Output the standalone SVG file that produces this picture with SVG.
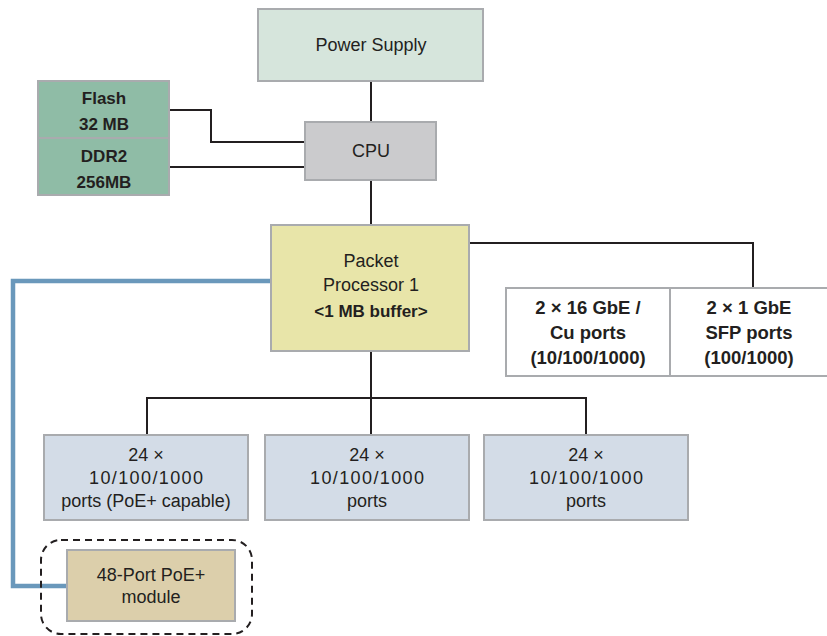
<svg xmlns="http://www.w3.org/2000/svg" width="827" height="636" viewBox="0 0 827 636">
<style>
text{font-family:"Liberation Sans",Arial,sans-serif;font-size:18px;fill:#231f20;text-anchor:middle}
.b{font-weight:bold;font-size:17px}
.r{font-weight:bold;font-size:18.5px}
.box{stroke:#a9abae;stroke-width:2}
.ln{fill:none;stroke:#231f20;stroke-width:2}
</style>
<rect width="827" height="636" fill="#fff"/>
<g id="connectors">
<path class="ln" d="M371 81V122M371 180V225M169 110H211V142H305M169 167H305M469 243H753V288M371 351V398M147 435V398H586V435M371 398V435"/>
<path d="M271 281H13V586H67" fill="none" stroke="#6a98bb" stroke-width="4.5"/>
</g>
<g id="power"><rect class="box" x="258" y="9" width="225" height="72" fill="#d6e5dc"/><text x="371" y="51">Power Supply</text></g>
<g id="cpu"><rect class="box" x="305" y="122" width="131" height="58" fill="#cbcbcd"/><text x="371" y="157">CPU</text></g>
<g id="flash"><rect class="box" x="38" y="81" width="131" height="57" fill="#8fbca6"/><text class="b" x="104" y="104">Flash</text><text class="b" x="104" y="130">32 MB</text></g>
<g id="ddr2"><rect class="box" x="38" y="138" width="131" height="57" fill="#8fbca6"/><text class="b" x="104" y="162">DDR2</text><text class="b" x="104" y="188">256MB</text></g>
<g id="pp"><rect class="box" x="271" y="225" width="198" height="126" fill="#e8e5a9"/><text x="371" y="267">Packet</text><text x="371" y="291">Processor 1</text><text class="b" x="371" y="317">&lt;1 MB buffer&gt;</text></g>
<g id="cu"><rect class="box" x="506" y="288" width="164" height="88" fill="#fff"/><text class="r" x="588" y="314">2 × 16 GbE /</text><text class="r" x="588" y="339">Cu ports</text><text class="r" x="588" y="364">(10/100/1000)</text></g>
<g id="sfp"><rect class="box" x="670" y="288" width="160" height="88" fill="#fff"/><text class="r" x="749" y="314">2 × 1 GbE</text><text class="r" x="749" y="339">SFP ports</text><text class="r" x="749" y="364">(100/1000)</text></g>
<g id="ports1"><rect class="box" x="44" y="435" width="204" height="85" fill="#d3dce7"/><text x="146" y="461">24 ×</text><text x="146" y="484" textLength="114" lengthAdjust="spacing">10/100/1000</text><text x="146" y="507">ports (PoE+ capable)</text></g>
<g id="ports2"><rect class="box" x="265" y="435" width="204" height="85" fill="#d3dce7"/><text x="367" y="461">24 ×</text><text x="367" y="484" textLength="114" lengthAdjust="spacing">10/100/1000</text><text x="367" y="507">ports</text></g>
<g id="ports3"><rect class="box" x="484" y="435" width="204" height="85" fill="#d3dce7"/><text x="586" y="461">24 ×</text><text x="586" y="484" textLength="114" lengthAdjust="spacing">10/100/1000</text><text x="586" y="507">ports</text></g>
<g id="module"><rect x="41" y="540" width="211" height="94" rx="20" fill="none" stroke="#231f20" stroke-width="2" stroke-dasharray="7 5"/><rect class="box" x="67" y="550" width="168" height="71" fill="#dccfab"/><text x="151" y="581">48-Port PoE+</text><text x="151" y="603">module</text></g>
</svg>
